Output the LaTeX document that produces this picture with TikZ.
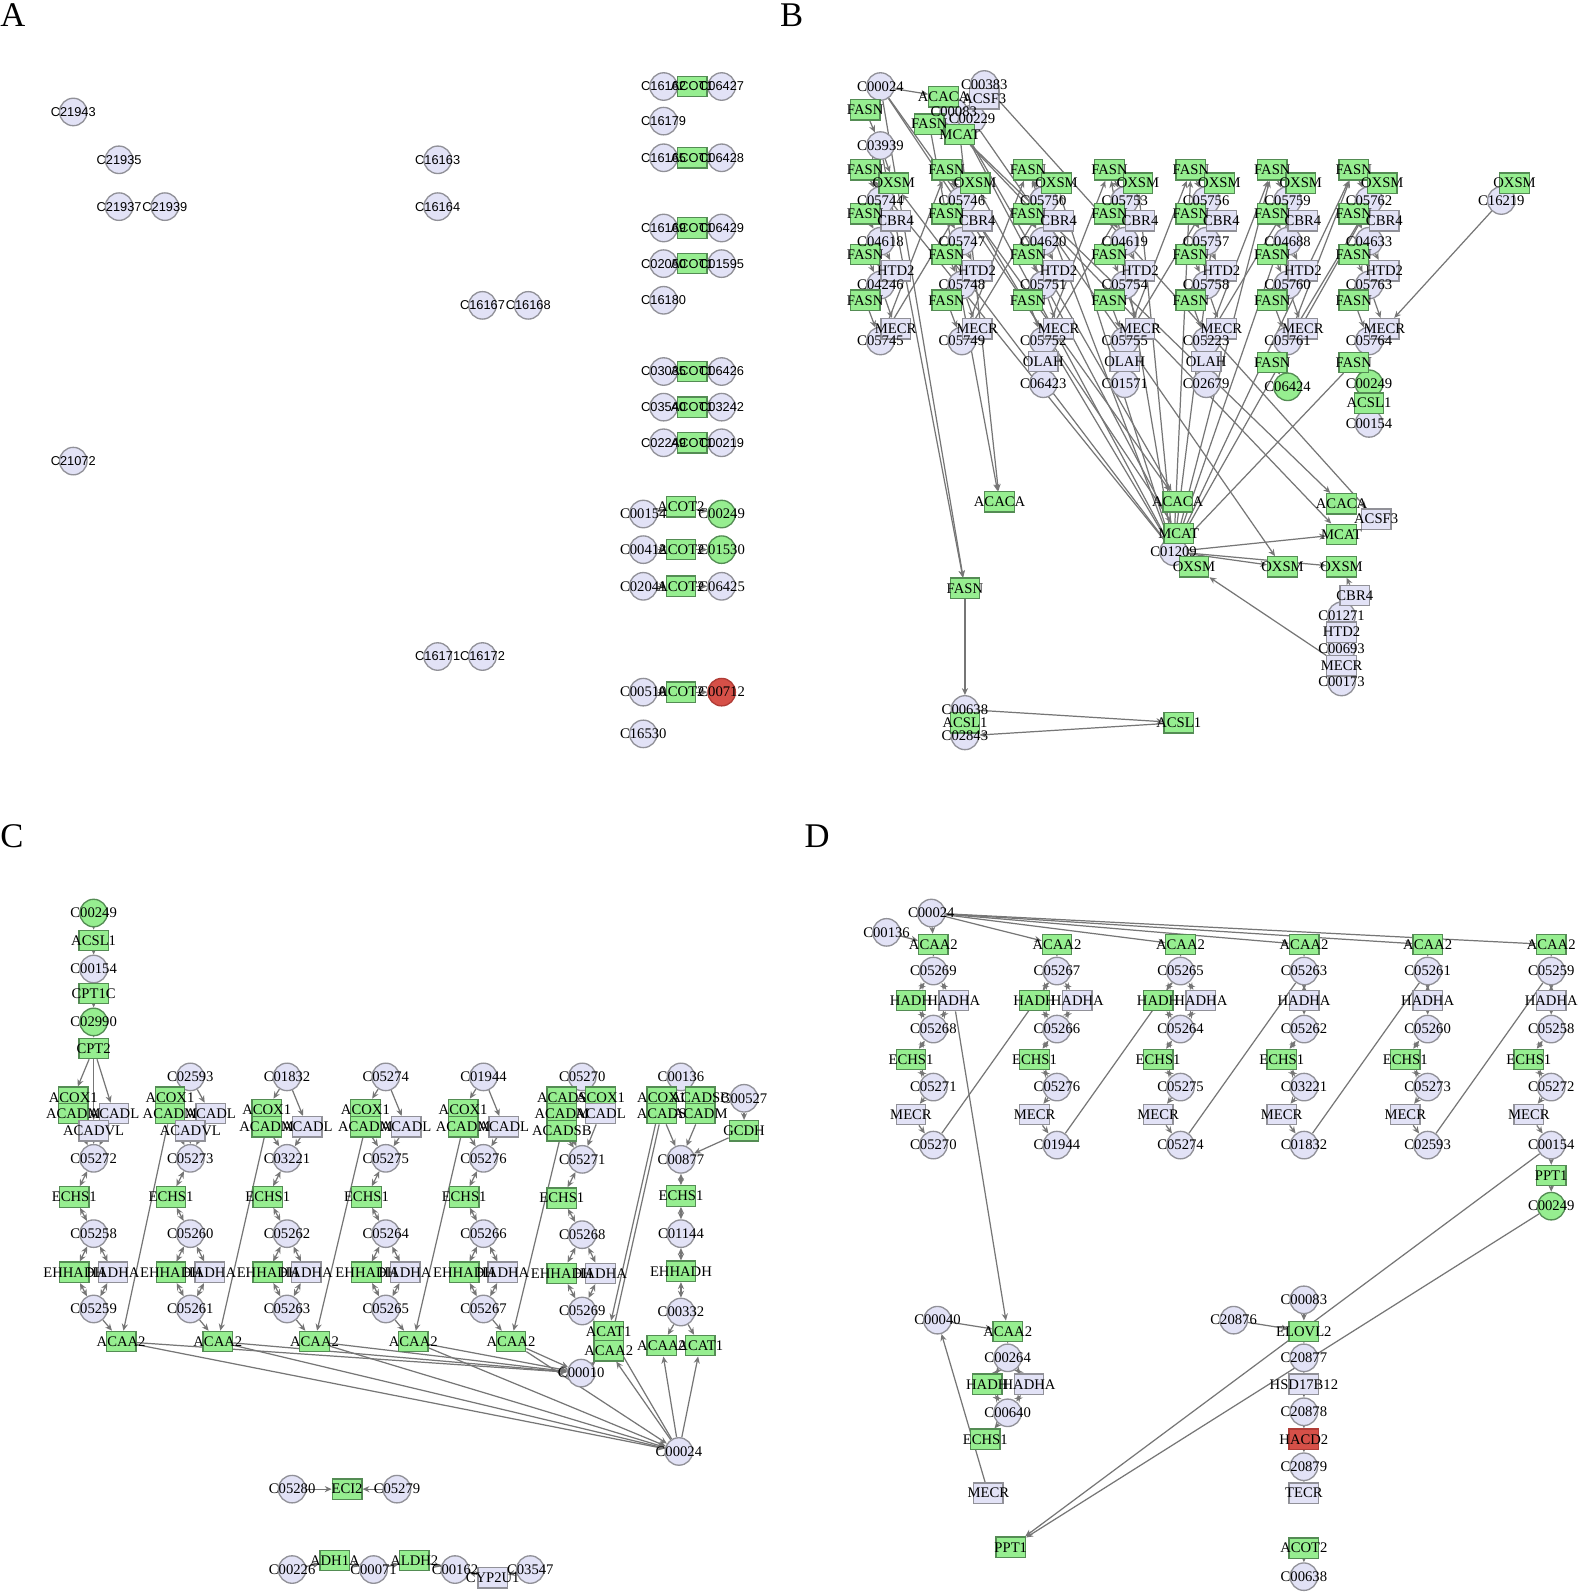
\documentclass[tikz,border=0pt]{standalone}
\usepackage{fontspec}
\usepackage{etoolbox}
\setmainfont{Liberation Serif}
\setsansfont{Liberation Sans}
\usetikzlibrary{arrows.meta}
\pgfdeclarelayer{bg}\pgfsetlayers{bg,main}
\definecolor{lav}{RGB}{226,226,246}
\definecolor{lavd}{RGB}{145,145,152}
\definecolor{grn}{RGB}{150,238,144}
\definecolor{grnd}{RGB}{84,140,84}
\definecolor{redf}{RGB}{214,80,72}
\definecolor{redd}{RGB}{176,60,54}
\definecolor{edg}{RGB}{118,118,118}
\tikzset{
 cpd/.style={circle,draw=lavd,fill=lav,minimum size=13.5pt,inner sep=0pt,line width=0.65pt},
 cpdg/.style={cpd,fill=grn,draw=grnd},
 cpdr/.style={cpd,fill=redf,draw=redd},
 gen/.style={rectangle,draw=grnd,fill=grn,minimum width=14.5pt,minimum height=10pt,inner sep=0pt,line width=0.65pt},
 genl/.style={gen,fill=lav,draw=lavd},
 genr/.style={gen,fill=redf,draw=redd},
 lab/.style={font=\fontsize{7.2}{8}\selectfont,inner sep=0pt},
 labs/.style={font=\sffamily\fontsize{6.3}{7}\selectfont,inner sep=0pt},
 ar/.style={draw=edg,line width=0.6pt,-{Stealth[length=3.4pt,width=3pt]}},
 arb/.style={draw=edg,line width=0.6pt,{Stealth[length=3.4pt,width=3pt]}-{Stealth[length=3.4pt,width=3pt]}},
 ln/.style={draw=edg,line width=0.6pt},
 plet/.style={font=\fontsize{17}{17}\selectfont,inner sep=0pt,anchor=north west}
}
\newcommand\lablist{}
\newcommand\Nd[6][lab]{\node[#2] (#3) at (#4,#5) {};\xappto\lablist{\noexpand\node[#1] at (#3.center) {#6};}}
\begin{document}
\begin{tikzpicture}[x=0.5pt,y=-0.5pt]
\useasboundingbox (0,0) rectangle (1550,1568);
\begin{pgfonlayer}{bg}
\fill[white] (0,0) rectangle (1550,1568);
\end{pgfonlayer}
% panel letters
\node[plet] (LA) at (0,3) {A};
\node[plet] (LB) at (766,3) {B};
\node[plet] (LC) at (0,810) {C};
\node[plet] (LD) at (790,810) {D};

% ================= PANEL A =================
\Nd[labs]{cpd}{aC21943}{72}{110}{C21943}
\Nd[labs]{cpd}{aC21935}{117}{157}{C21935}
\Nd[labs]{cpd}{aC21937}{117}{203}{C21937}
\Nd[labs]{cpd}{aC21939}{162}{203}{C21939}
\Nd[labs]{cpd}{aC21072}{72}{453}{C21072}
\Nd[labs]{cpd}{aC16163}{430}{157}{C16163}
\Nd[labs]{cpd}{aC16164}{430}{203}{C16164}
\Nd[labs]{cpd}{aC16167}{474}{300}{C16167}
\Nd[labs]{cpd}{aC16168}{519}{300}{C16168}
\Nd[labs]{cpd}{aC16171}{430}{645}{C16171}
\Nd[labs]{cpd}{aC16172}{474}{645}{C16172}
\Nd[labs]{cpd}{aC16179}{652}{119}{C16179}
\Nd[labs]{cpd}{aC16180}{652}{295}{C16180}
\foreach \q/\yy/\la/\lb in {1/85/C16162/C06427,2/155/C16165/C06428,3/224/C16169/C06429,4/259/C02050/C01595,5/365/C03035/C06426,6/400/C03540/C03242,7/435/C02249/C00219}{
 \Nd[labs]{cpd}{aL\q}{652}{\yy}{\la}
 \Nd[labs]{cpd}{aR\q}{709}{\yy}{\lb}
 \Nd[labs]{gen}{aG\q}{680}{\yy}{ACOT1}
}
\Nd{cpd}{aL8}{632}{505}{C00154}
\Nd{cpdg}{aR8}{709}{505}{C00249}
\Nd{gen}{aG8}{669}{498}{ACOT2}
\Nd{cpd}{aL9}{632}{540}{C00412}
\Nd{cpdg}{aR9}{709}{540}{C01530}
\Nd{gen}{aG9}{669}{540}{ACOT2}
\Nd{cpd}{aL10}{632}{576}{C02041}
\Nd{cpd}{aR10}{709}{576}{C06425}
\Nd{gen}{aG10}{669}{576}{ACOT2}
\Nd{cpd}{aL11}{632}{680}{C00510}
\Nd{cpdr}{aR11}{709}{680}{C00712}
\Nd{gen}{aG11}{669}{680}{ACOT2}
\Nd{cpd}{aC16530}{632}{721}{C16530}

% ================= PANEL B =================
\Nd{cpd}{bC00024}{865}{85}{C00024}
\Nd{cpd}{bC03939}{865}{143}{C03939}
\Nd{cpd}{bC00383}{967}{83}{C00383}
\Nd{cpd}{bC00083}{937}{110}{C00083}
\Nd{cpd}{bC00229}{955}{117}{C00229}
\Nd{cpd}{bC16219}{1475}{197}{C16219}
\Nd{gen}{bFASN0}{850}{108}{FASN}
\Nd{gen}{bACACA0}{927}{95}{ACACA}
\Nd{genl}{bACSF30}{967}{97}{ACSF3}
\Nd{gen}{bFASNt}{913}{122}{FASN}
\Nd{gen}{bMCAT0}{943}{132}{MCAT}
\Nd{gen}{bOXSMr}{1488}{180}{OXSM}
\foreach \q/\la/\lb/\lc/\ld in {1/C05744/C04618/C04246/C05745,2/C05746/C05747/C05748/C05749,3/C05750/C04620/C05751/C05752,4/C05753/C04619/C05754/C05755,5/C05756/C05757/C05758/C05223,6/C05759/C04688/C05760/C05761,7/C05762/C04633/C05763/C05764}{
 \pgfmathsetmacro\xo{850+80*(\q-1)}
 \Nd{cpd}{b\q c1}{\xo+15}{197}{\la}
 \Nd{cpd}{b\q c2}{\xo+15}{237}{\lb}
 \Nd{cpd}{b\q c3}{\xo+15}{280}{\lc}
 \Nd{cpd}{b\q c4}{\xo+15}{335}{\ld}
 \Nd{gen}{b\q F1}{\xo}{167}{FASN}
 \Nd{gen}{b\q OX}{\xo+28}{180}{OXSM}
 \Nd{gen}{b\q F2}{\xo}{210}{FASN}
 \Nd{genl}{b\q CB}{\xo+30}{217}{CBR4}
 \Nd{gen}{b\q F3}{\xo}{250}{FASN}
 \Nd{genl}{b\q HT}{\xo+30}{266}{HTD2}
 \Nd{gen}{b\q F4}{\xo}{295}{FASN}
 \Nd{genl}{b\q ME}{\xo+30}{323}{MECR}
}
\foreach \q/\lx in {3/C06423,4/C01571,5/C02679}{
 \pgfmathsetmacro\xo{850+80*(\q-1)}
 \Nd{cpd}{b\q c5}{\xo+15}{377}{\lx}
 \Nd{genl}{b\q OL}{\xo+15}{355}{OLAH}
}
\Nd{cpdg}{b6c5}{1265}{380}{C06424}
\Nd{gen}{b6F5}{1250}{356}{FASN}
\Nd{cpdg}{b7c5}{1345}{377}{C00249}
\Nd{cpd}{b7c6}{1345}{416}{C00154}
\Nd{gen}{b7F5}{1330}{356}{FASN}
\Nd{gen}{b7AC}{1345}{396}{ACSL1}
\Nd{cpd}{bC01209}{1153}{542}{C01209}
\Nd{cpd}{bC01271}{1318}{605}{C01271}
\Nd{cpd}{bC00693}{1318}{637}{C00693}
\Nd{cpd}{bC00173}{1318}{670}{C00173}
\Nd{cpd}{bC00638}{948}{697}{C00638}
\Nd{cpd}{bC02843}{948}{723}{C02843}
\Nd{gen}{bACACA1}{982}{493}{ACACA}
\Nd{gen}{bACACA2}{1157}{493}{ACACA}
\Nd{gen}{bACACA3}{1318}{495}{ACACA}
\Nd{genl}{bACSF31}{1352}{510}{ACSF3}
\Nd{gen}{bMCAT1}{1158}{524}{MCAT}
\Nd{gen}{bMCAT2}{1318}{525}{MCAT}
\Nd{gen}{bOXSM1}{1173}{557}{OXSM}
\Nd{gen}{bOXSM2}{1260}{557}{OXSM}
\Nd{gen}{bOXSM3}{1318}{557}{OXSM}
\Nd{genl}{bCBR4}{1331}{585}{CBR4}
\Nd{genl}{bHTD2}{1318}{621}{HTD2}
\Nd{genl}{bMECR}{1318}{654}{MECR}
\Nd{gen}{bFASN5}{948}{578}{FASN}
\Nd{gen}{bACSL1a}{948}{710}{ACSL1}
\Nd{gen}{bACSL1b}{1158}{710}{ACSL1}

% ================= PANEL C =================
\Nd{cpdg}{cC00249}{92}{897}{C00249}
\Nd{cpd}{cC00154}{92}{952}{C00154}
\Nd{cpdg}{cC02990}{92}{1004}{C02990}
\Nd{gen}{cACSL1}{92}{924}{ACSL1}
\Nd{gen}{cCPT1C}{92}{976}{CPT1C}
\Nd{gen}{cCPT2}{92}{1030}{CPT2}
\foreach \q/\xx/\lt in {2/187/C02593,3/282/C01832,4/379/C05274,5/475/C01944}{
 \Nd{cpd}{c\q T}{\xx}{1058}{\lt}
}
\foreach \q/\xx/\yo/\ym/\la/\lb/\lc in {1/92/1078/1094/C05272/C05258/C05259,2/187/1078/1094/C05273/C05260/C05261,3/282/1090/1107/C03221/C05262/C05263,4/379/1090/1107/C05275/C05264/C05265,5/475/1090/1107/C05276/C05266/C05267}{
 \Nd{cpd}{c\q c1}{\xx}{1138}{\la}
 \Nd{cpd}{c\q c2}{\xx}{1212}{\lb}
 \Nd{cpd}{c\q c3}{\xx}{1286}{\lc}
 \Nd{gen}{c\q O}{\xx-20}{\yo}{ACOX1}
 \Nd{gen}{c\q M}{\xx-20}{\ym}{ACADM}
 \Nd{genl}{c\q L}{\xx+20}{\ym}{ACADL}
 \Nd{gen}{c\q H}{\xx-19}{1176}{ECHS1}
 \Nd{gen}{c\q D}{\xx-19}{1250}{EHHADH}
 \Nd{genl}{c\q A}{\xx+19}{1250}{HADHA}
 \Nd{gen}{c\q K}{\xx+27}{1318}{ACAA2}
}
\Nd{genl}{c1V}{92}{1111}{ACADVL}
\Nd{genl}{c2V}{187}{1111}{ACADVL}
\Nd{cpd}{c6T}{572}{1058}{C05270}
\Nd{cpd}{c6c1}{572}{1139}{C05271}
\Nd{cpd}{c6c2}{572}{1213}{C05268}
\Nd{cpd}{c6c3}{572}{1288}{C05269}
\Nd{cpd}{cC00010}{571}{1349}{C00010}
\Nd{gen}{c6S}{552}{1078}{ACADS}
\Nd{gen}{c6O}{590}{1078}{ACOX1}
\Nd{gen}{c6M}{552}{1094}{ACADM}
\Nd{genl}{c6L}{590}{1094}{ACADL}
\Nd{gen}{c6B}{552}{1111}{ACADSB}
\Nd{gen}{c6H}{552}{1177}{ECHS1}
\Nd{gen}{c6D}{552}{1251}{EHHADH}
\Nd{genl}{c6A}{590}{1251}{HADHA}
\Nd{gen}{c6T1}{598}{1308}{ACAT1}
\Nd{gen}{c6K}{598}{1327}{ACAA2}
\Nd{cpd}{c7T}{669}{1058}{C00136}
\Nd{cpd}{cC00527}{731}{1079}{C00527}
\Nd{cpd}{c7c1}{669}{1139}{C00877}
\Nd{cpd}{c7c2}{669}{1212}{C01144}
\Nd{cpd}{c7c3}{669}{1289}{C00332}
\Nd{cpd}{cC00024}{667}{1426}{C00024}
\Nd{gen}{c7O}{650}{1078}{ACOX1}
\Nd{gen}{c7B}{688}{1078}{ACADSB}
\Nd{gen}{c7S}{650}{1094}{ACADS}
\Nd{gen}{c7M}{688}{1094}{ACADM}
\Nd{gen}{cGCDH}{731}{1111}{GCDH}
\Nd{gen}{c7H}{669}{1175}{ECHS1}
\Nd{gen}{c7D}{669}{1249}{EHHADH}
\Nd{gen}{c7K}{650}{1322}{ACAA2}
\Nd{gen}{c7T1}{688}{1322}{ACAT1}
\Nd{cpd}{cC05280}{287}{1463}{C05280}
\Nd{cpd}{cC05279}{390}{1463}{C05279}
\Nd{gen}{cECI2}{341}{1463}{ECI2}
\Nd{cpd}{cC00226}{287}{1542}{C00226}
\Nd{cpd}{cC00071}{367}{1542}{C00071}
\Nd{cpd}{cC00162}{447}{1542}{C00162}
\Nd{cpd}{cC03547}{521}{1542}{C03547}
\Nd{gen}{cADH1A}{329}{1533}{ADH1A}
\Nd{gen}{cALDH2}{407}{1533}{ALDH2}
\Nd{genl}{cCYP2U1}{484}{1550}{CYP2U1}

% ================= PANEL D =================
\Nd{cpd}{dC00024}{915}{897}{C00024}
\Nd{cpd}{dC00136}{871}{916}{C00136}
\foreach \q/\la/\lb/\lc/\ld in {1/C05269/C05268/C05271/C05270,2/C05267/C05266/C05276/C01944,3/C05265/C05264/C05275/C05274,4/C05263/C05262/C03221/C01832,5/C05261/C05260/C05273/C02593,6/C05259/C05258/C05272/C00154}{
 \pgfmathsetmacro\xo{917+121.4*(\q-1)}
 \Nd{cpd}{d\q c1}{\xo}{954}{\la}
 \Nd{cpd}{d\q c2}{\xo}{1011}{\lb}
 \Nd{cpd}{d\q c3}{\xo}{1068}{\lc}
 \Nd{cpd}{d\q c4}{\xo}{1125}{\ld}
 \Nd{gen}{d\q K}{\xo}{928}{ACAA2}
 \Nd{gen}{d\q H}{\xo-22}{1041}{ECHS1}
 \Nd{genl}{d\q M}{\xo-22}{1095}{MECR}
}
\foreach \q in {1,2,3}{
 \pgfmathsetmacro\xo{917+121.4*(\q-1)}
 \Nd{gen}{d\q HD}{\xo-22}{983}{HADH}
 \Nd{genl}{d\q HA}{\xo+20}{983}{HADHA}
}
\foreach \q in {4,5,6}{
 \pgfmathsetmacro\xo{917+121.4*(\q-1)}
 \Nd{genl}{d\q HA}{\xo}{983}{HADHA}
}
\Nd{cpdg}{dC00249}{1524}{1185}{C00249}
\Nd{gen}{dPPT1a}{1524}{1155}{PPT1}
\Nd{cpd}{dC00040}{921}{1297}{C00040}
\Nd{cpd}{dC00264}{990}{1334}{C00264}
\Nd{cpd}{dC00640}{990}{1388}{C00640}
\Nd{gen}{dACAA2}{990}{1308}{ACAA2}
\Nd{gen}{dHADH}{970}{1360}{HADH}
\Nd{genl}{dHADHA}{1011}{1360}{HADHA}
\Nd{gen}{dECHS1}{968}{1414}{ECHS1}
\Nd{genl}{dMECR}{971}{1467}{MECR}
\Nd{gen}{dPPT1b}{993}{1520}{PPT1}
\Nd{cpd}{dC00083}{1281}{1277}{C00083}
\Nd{cpd}{dC20876}{1212}{1297}{C20876}
\Nd{cpd}{dC20877}{1281}{1334}{C20877}
\Nd{cpd}{dC20878}{1281}{1387}{C20878}
\Nd{cpd}{dC20879}{1281}{1441}{C20879}
\Nd{cpd}{dC00638}{1281}{1549}{C00638}
\Nd{gen}{dELOVL2}{1281}{1308}{ELOVL2}
\Nd{genl}{dHSD}{1281}{1360}{HSD17B12}
\Nd{genr}{dHACD2}{1281}{1414}{HACD2}
\Nd{genl}{dTECR}{1281}{1467}{TECR}
\Nd{gen}{dACOT2}{1281}{1521}{ACOT2}

% ================= EDGES =================
\begin{pgfonlayer}{bg}
\foreach \q in {8,9,10,11}{\draw[ar] (aL\q) -- (aG\q); \draw[ar] (aG\q) -- (aR\q);}
\draw[ar] (bC00024) -- (bACACA0);
\draw[ar] (bFASN0) -- (bC03939);
\draw[ar] (bC03939) -- (b1F1);
\draw[ar] (bC03939) -- (b1OX);
\foreach \q in {1,...,7}{
 \draw[ar] (b\q OX) -- (b\q c1);
 \draw[ar] (b\q F1) -- (b\q c1);
 \draw[ar] (b\q c1) -- (b\q F2);
 \draw[ar] (b\q c1) -- (b\q CB);
 \draw[ar] (b\q F2) -- (b\q c2);
 \draw[ar] (b\q CB) -- (b\q c2);
 \draw[ar] (b\q c2) -- (b\q F3);
 \draw[ar] (b\q c2) -- (b\q HT);
 \draw[ar] (b\q F3) -- (b\q c3);
 \draw[ar] (b\q HT) -- (b\q c3);
 \draw[ar] (b\q c3) -- (b\q F4);
 \draw[ar] (b\q c3) -- (b\q ME);
 \draw[ar] (b\q F4) -- (b\q c4);
 \draw[ar] (b\q ME) -- (b\q c4);
 \draw[ar] (bC01209) -- (b\q OX);
 \draw[ar] (bC01209) -- (b\q F1);
}
\foreach \q/\r in {1/2,2/3,3/4,4/5,5/6,6/7}{
 \draw[ar] (b\q c4) -- (b\r OX);
 \draw[ar] (b\q c4) -- (b\r F1);
}
\foreach \q in {3,4,5}{\draw[ar] (b\q c4) -- (b\q OL); \draw[ar] (b\q OL) -- (b\q c5);}
\draw[ar] (b6c4) -- (b6F5); \draw[ar] (b6F5) -- (b6c5);
\draw[ar] (b7c4) -- (b7F5); \draw[ar] (b7F5) -- (b7c5);
\draw[ar] (b7c5) -- (b7AC); \draw[ar] (b7AC) -- (b7c6);
\draw[ar] (bC16219) -- (b7ME);
\draw[ar] (bOXSMr) -- (bC16219);
\draw[ar] (bC00024) -- (bFASN5);
\draw[ar] (bC03939) -- (bFASN5);
\draw[ar] (bMCAT0) -- (bACACA1);
\draw[ar] (bFASNt) -- (bACACA1);
\draw[ar] (bC00024) -- (bMCAT1);
\draw[ar] (bC00024) -- (bACACA2);
\draw[ar] (bC00083) -- (bACACA2);
\draw[ar] (bMCAT0) -- (bACACA3);
\draw[ar] (bMCAT0) -- (bMCAT2);
\draw[ar] (bC00229) -- (bOXSM2);
\draw[ar] (bC00083) -- (bOXSM1);
\draw[ar] (bC00383) -- (bACSF31);
\draw[ar] (bC01209) -- (bOXSM1);
\draw[ar] (bC01209) -- (bOXSM2);
\draw[ar] (bC01209) -- (bOXSM3);
\draw[ar] (bC01209) -- (bMCAT2);
\draw[ar] (bCBR4) -- (bOXSM3);
\draw[ar] (bMECR) -- (bOXSM1);
\draw[ar] (b7F5) -- (bC01209);
\draw[ar] (bFASN5) -- (bC00638);
\draw[ar] (bC00638) -- (bACSL1b);
\draw[ar] (bACSL1b) -- (bC02843);
\draw[ar] (cC00249) -- (cACSL1);
\draw[ar] (cACSL1) -- (cC00154);
\draw[ar] (cC00154) -- (cCPT1C);
\draw[ar] (cCPT1C) -- (cC02990);
\draw[ar] (cC02990) -- (cCPT2);
\draw[ar] (cCPT2) -- (c1O);
\draw[ar] (cCPT2) -- (c1V);
\draw[ar] (cCPT2) -- (c1L);
\draw[ar] (c1V) -- (c1c1);
\draw[ar] (c2V) -- (c2c1);
\foreach \q in {2,3,4,5}{\draw[ar] (c\q T) -- (c\q O); \draw[ar] (c\q T) -- (c\q L);}
\foreach \q in {1,...,5}{
 \draw[ar] (c\q M) -- (c\q c1);
 \draw[ar] (c\q L) -- (c\q c1);
 \draw[arb] (c\q c1) -- (c\q H);
 \draw[arb] (c\q H) -- (c\q c2);
 \draw[arb] (c\q c2) -- (c\q D);
 \draw[arb] (c\q c2) -- (c\q A);
 \draw[arb] (c\q D) -- (c\q c3);
 \draw[arb] (c\q A) -- (c\q c3);
 \draw[ar] (c\q c3) -- (c\q K);
 \draw[ar] (c\q K) -- (cC00010);
 \draw[ar] (c\q K) -- (cC00024);
}
\draw[ar] (c2M) -- (c1K);
\draw[ar] (c3M) -- (c2K);
\draw[ar] (c4M) -- (c3K);
\draw[ar] (c5M) -- (c4K);
\draw[ar] (c6B) -- (c5K);
\draw[ar] (c6T) -- (c6S);
\draw[ar] (c6T) -- (c6O);
\draw[ar] (c6M) -- (c6c1);
\draw[ar] (c6L) -- (c6c1);
\draw[ar] (c6B) -- (c6c1);
\draw[arb] (c6c1) -- (c6H);
\draw[arb] (c6H) -- (c6c2);
\draw[arb] (c6c2) -- (c6D);
\draw[arb] (c6c2) -- (c6A);
\draw[arb] (c6D) -- (c6c3);
\draw[arb] (c6A) -- (c6c3);
\draw[ar] (c6c3) -- (c6T1);
\draw[ar] (cC00010) -- (c6K);
\draw[ar] (cC00024) -- (c6K);
\draw[ar] (cC00024) -- (c6T1);
\draw[ar] (c7O) -- (c6T1);
\draw[ar] (c7S) -- (c6K);
\draw[ar] (c7T) -- (c7O);
\draw[ar] (c7T) -- (c7B);
\draw[ar] (c7S) -- (c7c1);
\draw[ar] (c7M) -- (c7c1);
\draw[ar] (cC00527) -- (cGCDH);
\draw[ar] (cGCDH) -- (c7c1);
\draw[arb] (c7c1) -- (c7H);
\draw[arb] (c7H) -- (c7c2);
\draw[arb] (c7c2) -- (c7D);
\draw[arb] (c7D) -- (c7c3);
\draw[ar] (c7c3) -- (c7K);
\draw[ar] (c7c3) -- (c7T1);
\draw[ar] (cC00024) -- (c7K);
\draw[ar] (cC00024) -- (c7T1);
\draw[ar] (cC05280) -- (cECI2);
\draw[ar] (cC05279) -- (cECI2);
\draw[ar] (cC00226) -- (cADH1A);
\draw[ar] (cADH1A) -- (cC00071);
\draw[ar] (cC00071) -- (cALDH2);
\draw[ar] (cALDH2) -- (cC00162);
\draw[ar] (cC03547) -- (cCYP2U1);
\draw[ar] (cCYP2U1) -- (cC00162);
\draw[ar] (dC00136) -- (d1K);
\foreach \q in {1,...,6}{
 \draw[ar] (dC00024) -- (d\q K);
 \draw[ar] (d\q K) -- (d\q c1);
 \draw[arb] (d\q c1) -- (d\q HA);
 \draw[arb] (d\q HA) -- (d\q c2);
 \draw[arb] (d\q c2) -- (d\q H);
 \draw[arb] (d\q H) -- (d\q c3);
 \draw[ar] (d\q c3) -- (d\q M);
 \draw[ar] (d\q M) -- (d\q c4);
}
\foreach \q in {1,2,3}{\draw[arb] (d\q c1) -- (d\q HD); \draw[arb] (d\q HD) -- (d\q c2);}
\foreach \q/\r in {1/2,2/3,3/4,4/5,5/6}{\draw[ln] (d\q c4) -- (d\r c1);}
\draw[ar] (d6c4) -- (dPPT1a);
\draw[ar] (dPPT1a) -- (dC00249);
\draw[ar] (d6c4) -- (dPPT1b);
\draw[ar] (dC00249) -- (dPPT1b);
\draw[ar] (d1HA) -- (dACAA2);
\draw[ar] (dC00040) -- (dACAA2);
\draw[ar] (dACAA2) -- (dC00264);
\draw[arb] (dC00264) -- (dHADH);
\draw[arb] (dC00264) -- (dHADHA);
\draw[arb] (dHADH) -- (dC00640);
\draw[arb] (dHADHA) -- (dC00640);
\draw[ar] (dC00640) -- (dECHS1);
\draw[ar] (dMECR) -- (dC00040);
\draw[ar] (dC00083) -- (dELOVL2);
\draw[ar] (dC20876) -- (dELOVL2);
\draw[ar] (dELOVL2) -- (dC20877);
\draw[ar] (dC20877) -- (dHSD);
\draw[ar] (dHSD) -- (dC20878);
\draw[ar] (dC20878) -- (dHACD2);
\draw[ar] (dHACD2) -- (dC20879);
\draw[ar] (dC20879) -- (dTECR);
\draw[ar] (dACOT2) -- (dC00638);
\end{pgfonlayer}
% labels on top
\lablist
\end{tikzpicture}
\end{document}
